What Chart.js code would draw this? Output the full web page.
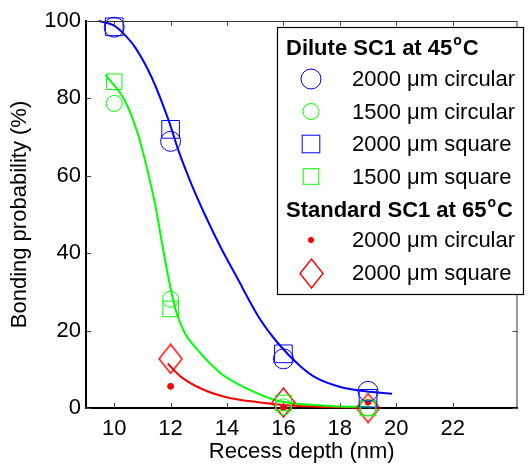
<!DOCTYPE html>
<html>
<head>
<meta charset="utf-8">
<script src="https://cdn.jsdelivr.net/npm/chart.js"></script>
<style>
  html, body { margin: 0; padding: 0; background: #fff; }
  #wrap { width: 531px; height: 465px; }
</style>
</head>
<body>
<div id="wrap"><canvas id="chart" width="531" height="465"></canvas></div>
<script>
// measured depths and bonding probabilities
const depths = [10, 12, 16, 19];
const depthsStd = [12, 16, 19];
const dilute2000Circ = [98.4, 68.9, 12.7, 4.3];
const dilute1500Circ = [78.7, 28.1, 0.3, 0];
const dilute2000Sq = [98.5, 72.0, 14.0, 2.5];
const dilute1500Sq = [84.3, 25.6, 1.3, 0];
const std2000Circ = [5.6, 0.1, 1.5];
const std2000Sq = [12.7, 1.4, 0];

// fitted curves
const fitBlueX = [9.45, 10, 10.35, 10.76, 11.33, 11.93, 12.28, 12.73, 13.2, 13.77, 14.34, 15.15, 15.8, 16.6, 17.18, 17.99, 18.9, 19.85];
const fitBlueY = [100, 98.8, 96.6, 93, 85.4, 74.3, 66.5, 58, 50.2, 41.6, 33.9, 23.2, 16.8, 10.8, 7.7, 5.5, 4.3, 3.7];
const fitGreenX = [9.69, 10.38, 10.84, 11.18, 11.47, 11.72, 11.98, 12.2, 12.5, 12.85, 13.77, 14.92, 15.84, 17.45, 19.14];
const fitGreenY = [86.1, 79.4, 70.8, 61.4, 51.9, 41.6, 31.6, 24.8, 19.4, 15.9, 9.0, 4.3, 1.8, 0.6, 0.2];
const fitRedX = [11.9, 12.36, 13.05, 13.97, 15.1, 16, 17, 18.8];
const fitRedY = [11.5, 8.1, 5.1, 2.8, 1.5, 0.8, 0.4, 0.1];

const xTicks = [10, 12, 14, 16, 18, 20, 22];
const yTicks = [0, 20, 40, 60, 80, 100];

const FONT = "'Liberation Sans', Arial, sans-serif";
const BLUE = '#0000ff', GREEN = '#00ff00', RED = '#ff0000';

function pts(xs, ys) {
    return xs.map((x, i) => ({ x: x, y: ys[i] }));
}

// diamond marker (taller than wide, like the original)
const diamond = document.createElement('canvas');
diamond.width = 25;
diamond.height = 31;
(function() {
    const d = diamond.getContext('2d');
    d.strokeStyle = RED;
    d.lineWidth = 1.4;
    d.beginPath();
    d.moveTo(12.5, 1);
    d.lineTo(24, 15.5);
    d.lineTo(12.5, 30);
    d.lineTo(1, 15.5);
    d.closePath();
    d.stroke();
})();

function fitLine(xs, ys, color) {
    return {
        data: pts(xs, ys),
        showLine: true,
        borderColor: color,
        borderWidth: 2,
        pointRadius: 0,
        cubicInterpolationMode: 'monotone',
        clip: false,
        order: 2
    };
}

function markers(xs, ys, color, style, radius, fill) {
    return {
        data: pts(xs, ys),
        showLine: false,
        pointStyle: style,
        pointRadius: radius,
        pointBorderWidth: 1,
        pointBorderColor: color,
        pointBackgroundColor: fill ? color : 'rgba(0,0,0,0)',
        clip: false,
        order: 1
    };
}

// inward ticks, top/right frame and the grouped legend
const framePlugin = {
    id: 'frame',
    afterDatasetsDraw(chart) {
        const ctx = chart.ctx;
        const a = chart.chartArea;
        const xs = chart.scales.x, ys = chart.scales.y;
        ctx.save();
        ctx.strokeStyle = '#333';
        ctx.lineWidth = 1;
        ctx.beginPath();
        ctx.moveTo(a.left, a.top + 0.5);
        ctx.lineTo(a.right - 0.5, a.top + 0.5);
        ctx.lineTo(a.right - 0.5, a.bottom);
        ctx.stroke();
        ctx.strokeStyle = '#444';
        ctx.beginPath();
        xTicks.forEach(v => {
            const px = Math.round(xs.getPixelForValue(v)) + 0.5;
            ctx.moveTo(px, a.bottom);
            ctx.lineTo(px, a.bottom - 5);
            ctx.moveTo(px, a.top);
            ctx.lineTo(px, a.top + 5);
        });
        yTicks.forEach(v => {
            const py = Math.round(ys.getPixelForValue(v)) + 0.5;
            ctx.moveTo(a.left, py);
            ctx.lineTo(a.left + 5, py);
            ctx.moveTo(a.right, py);
            ctx.lineTo(a.right - 5, py);
        });
        ctx.stroke();

        // legend box
        const L = 277.5, T = 27.5, R = 523.5, B = 294.5;
        ctx.fillStyle = '#fff';
        ctx.fillRect(L, T, R - L, B - T);
        ctx.strokeStyle = '#000';
        ctx.lineWidth = 1.2;
        ctx.strokeRect(L, T, R - L, B - T);

        ctx.fillStyle = '#000';
        ctx.textBaseline = 'alphabetic';
        ctx.textAlign = 'left';
        function heading(text, y) {
            ctx.font = 'bold 22px ' + FONT;
            ctx.fillText(text, 286, y);
            let w = ctx.measureText(text).width;
            ctx.font = 'bold 14px ' + FONT;
            ctx.fillText('o', 286 + w + 1, y - 10);
            w += ctx.measureText('o').width + 2;
            ctx.font = 'bold 22px ' + FONT;
            ctx.fillText('C', 286 + w, y);
        }
        heading('Dilute SC1 at 45', 55);
        heading('Standard SC1 at 65', 217);

        const rows = [
            ['circle', BLUE, 10, '2000 μm circular', 79],
            ['circle', GREEN, 8, '1500 μm circular', 111.5],
            ['square', BLUE, 8.8, '2000 μm square', 144],
            ['square', GREEN, 7.8, '1500 μm square', 176.5],
            ['dot', RED, 3, '2000 μm circular', 240],
            ['diamond', RED, 0, '2000 μm square', 273]
        ];
        const mx = 311;
        rows.forEach(r => {
            const [kind, color, size, label, y] = r;
            ctx.strokeStyle = color;
            ctx.fillStyle = color;
            ctx.lineWidth = 1;
            if (kind === 'circle') {
                ctx.beginPath();
                ctx.arc(mx, y, size, 0, Math.PI * 2);
                ctx.stroke();
            } else if (kind === 'square') {
                ctx.strokeRect(mx - size, y - size, size * 2, size * 2);
            } else if (kind === 'dot') {
                ctx.beginPath();
                ctx.arc(mx, y, size, 0, Math.PI * 2);
                ctx.fill();
            } else {
                ctx.drawImage(diamond, Math.round(mx - diamond.width / 2), Math.round(y - diamond.height / 2));
            }
            ctx.fillStyle = '#000';
            ctx.font = '22px ' + FONT;
            ctx.textBaseline = 'middle';
            ctx.fillText(label, 352, y + 1);
            ctx.textBaseline = 'alphabetic';
        });
        ctx.restore();
    }
};

const ctx = document.getElementById('chart').getContext('2d');
new Chart(ctx, {
    type: 'scatter',
    data: {
        datasets: [
            fitLine(fitBlueX, fitBlueY, BLUE),
            fitLine(fitGreenX, fitGreenY, GREEN),
            fitLine(fitRedX, fitRedY, RED),
            markers(depths, dilute2000Circ, BLUE, 'circle', 10, false),
            markers(depths, dilute1500Circ, GREEN, 'circle', 8, false),
            markers(depths, dilute2000Sq, BLUE, 'rect', 12.5, false),
            markers(depths, dilute1500Sq, GREEN, 'rect', 11, false),
            markers(depthsStd, std2000Circ, RED, 'circle', 3, true),
            markers(depthsStd, std2000Sq, RED, diamond, 10, false)
        ]
    },
    options: {
        responsive: false,
        animation: false,
        events: [],
        layout: { padding: { top: 21, right: 2, left: 0, bottom: 0 } },
        plugins: {
            legend: { display: false },
            tooltip: { enabled: false }
        },
        scales: {
            x: {
                type: 'linear',
                min: 9,
                max: 24.3,
                afterFit: s => { s.height = 57; },
                afterBuildTicks: s => { s.ticks = xTicks.map(v => ({ value: v })); },
                grid: { display: true, drawOnChartArea: false, drawTicks: false },
                border: { display: true, color: '#000', width: 2 },
                ticks: {
                    padding: 8,
                    color: '#000',
                    font: { family: FONT, size: 22 },
                    maxRotation: 0
                },
                title: {
                    display: true,
                    text: 'Recess depth (nm)',
                    color: '#000',
                    font: { family: FONT, size: 22 },
                    padding: { top: 0, bottom: 0 }
                }
            },
            y: {
                type: 'linear',
                min: 0,
                max: 100,
                afterFit: s => { s.width = 86; },
                afterBuildTicks: s => { s.ticks = yTicks.map(v => ({ value: v })); },
                grid: { display: true, drawOnChartArea: false, drawTicks: false },
                border: { display: true, color: '#000', width: 2 },
                ticks: {
                    padding: 5,
                    color: '#000',
                    font: { family: FONT, size: 22 }
                },
                title: {
                    display: true,
                    text: 'Bonding probability (%)',
                    color: '#000',
                    font: { family: FONT, size: 22 },
                    padding: { top: 7, bottom: 0 }
                }
            }
        }
    },
    plugins: [framePlugin]
});
</script>
</body>
</html>
